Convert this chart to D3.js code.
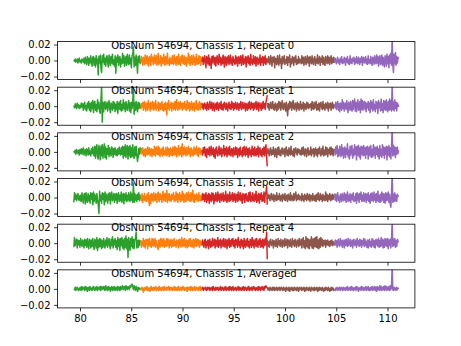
<!DOCTYPE html>
<html><head><meta charset="utf-8">
<script src="https://cdn.jsdelivr.net/npm/d3@7"></script>
<style>body{margin:0;background:#fff}svg{display:block}text{font-family:"DejaVu Sans",sans-serif;font-size:10px}</style>
</head><body><svg id="c" width="461" height="346"></svg>
<script>
// Segment time boundaries (x-axis units)
const segBounds = [79.4, 85.94, 91.9, 98.27, 104.83, 111.09];
const segColors = ["#2ca02c", "#ff7f0e", "#d62728", "#8c564b", "#9467bd"];
const xTicks = [80, 85, 90, 95, 100, 105, 110];
const yTicks = [20, 0, -20];            // in units of 0.001
const yTickLabels = ["0.02", "0.00", "\u22120.02"];
const titles = ["ObsNum 54694, Chassis 1, Repeat 0", "ObsNum 54694, Chassis 1, Repeat 1",
  "ObsNum 54694, Chassis 1, Repeat 2", "ObsNum 54694, Chassis 1, Repeat 3",
  "ObsNum 54694, Chassis 1, Repeat 4", "ObsNum 54694, Chassis 1, Averaged"];

// Series values, units of 0.001, one array per colored segment
const repeat0 = [
 [1,-1,2,-2,0,2,-3,1,3,-2,0,-3,2,1,-2,3,-4,4,-1,-5,5,2,-6,3,-3,6,-2,-7,4,5,-6,3,-8,6,-4,2,-18,5,-3,7,-9,-15,6,-2,8,-5,3,-7,4,6,-4,-8,7,2,-6,5,-3,8,-5,1,-7,6,-16,4,-2,7,-6,3,5,-8,2,-4,9,-3,6,-7,1,5,-6,8,-2,-5,7,-4,3,-9,6,8,17,-8,4,-6,7,-3,-16,5,-2,6,-4,2],
 [-3,5,-1,-6,4,2,-5,7,-2,-4,6,1,-7,3,5,-3,-6,8,-1,4,-5,2,7,-4,-2,6,-6,3,9,-5,1,-3,6,-7,4,2,-4,8,-2,-6,5,3,-5,9,-3,1,-6,4,-4,2,-4,6,-2,-5,7,-3,3,-6,5,1,-5,8,-4,2,-6,5,-1,7,-3,-4,6,-5,2,4,-7,3,-2,9,-4,5,-6,1,6,-3,-5,7,-2,4,-6,3,8,-5,2,-4,6,-3,5,-6,3,1],
 [-2,4,-5,1,6,-3,-9,5,2,-4,7,-6,3,-1,-10,5,-3,6,2,-5,4,-7,1,6,-3,-5,8,-2,4,-6,3,-4,7,-1,-8,5,2,-6,4,-3,6,-5,1,7,-4,3,-6,5,-2,1,-5,6,-3,4,-7,2,5,-4,-1,6,-6,3,7,-5,2,-3,5,-8,4,-2,6,-4,3,-6,8,-3,1,-5,6,-2,-4,5,-7,3,4,-5,2,-3,7,-6,3,-2,5,-6,4,-3,6,-5,2,1],
 [3,-3,5,-1,-5,6,2,-7,4,-2,5,-9,3,1,-5,6,-2,-6,7,-3,2,-10,5,-4,3,6,-5,1,-3,5,-6,4,-2,7,-8,2,-4,5,3,-6,4,-2,6,-5,1,-4,5,-3,2,-1,-4,6,-3,4,-6,2,5,-5,-2,6,-3,4,-7,5,1,-4,6,-2,-5,3,5,-6,2,-3,7,-4,-1,5,-6,3,-2,6,-5,4,-3,-6,5,2,-4,6,-3,4,-5,2,6,-4,3,-2,4,-3],
 [-2,3,-1,-4,2,4,-3,1,-5,3,-2,5,-4,1,-3,4,2,-6,3,-2,5,-4,1,-5,6,-3,2,-4,3,-1,4,-5,2,-3,5,-2,-4,4,1,-5,3,-2,5,-6,2,4,-3,-1,5,-4,2,-5,6,-3,1,-4,5,-2,-6,4,3,-5,6,-2,-4,7,-3,5,-7,2,6,-5,-3,7,-6,4,-2,-8,6,3,-7,8,-4,5,-9,7,-3,9,-6,30,-5,-15,8,-4,10,-6,5,-3,4,2]];
const repeat1 = [
 [1,-2,3,0,-3,4,-1,2,-3,1,-2,4,-1,3,-5,2,5,-4,1,-6,4,-2,6,-5,3,-7,5,-3,7,-8,4,6,-5,2,-7,8,-3,5,-6,-9,7,26,-20,5,-7,3,6,-4,-1,5,-6,2,7,-3,-8,4,1,-5,6,-3,5,-7,2,-4,6,-9,3,5,-4,7,-6,2,-5,8,-3,4,-7,6,-2,-5,3,7,-6,4,-8,5,-3,6,25,-10,4,-5,6,-2,-7,5,-3,4,-2,2],
 [-4,3,-1,5,-5,2,6,-3,-6,4,1,-5,7,-2,3,-6,5,-1,-4,6,2,-5,4,-3,7,-5,1,-2,5,-6,3,4,-4,-1,6,-5,2,-6,3,-4,5,-2,-11,4,-3,7,-5,1,-2,5,-6,3,4,-4,-1,6,-5,2,8,-3,-5,5,1,-4,6,-2,3,-5,4,-3,1,6,-4,2,-5,7,-3,-2,5,-6,3,-4,6,-1,-5,4,2,-6,5,-3,7,-4,2,-5,3,6,-4,-2,4,1],
 [-2,3,-4,1,4,-3,2,-5,5,-1,-4,3,6,-3,-2,5,-5,2,4,-6,1,3,-4,5,-2,-5,4,1,-3,6,-4,2,-5,3,5,-2,-4,4,-1,-6,3,5,-3,2,-4,6,-2,4,-5,3,-3,5,-1,-4,4,2,-5,3,-2,6,-4,1,5,-3,-2,4,-6,3,2,-5,4,-3,6,-1,-4,5,-2,3,-5,4,-3,2,6,-4,-1,5,-6,3,4,-2,-5,4,-3,6,-2,3,-4,5,9,14],
 [4,-2,3,-5,1,5,-3,-1,6,-4,2,-5,4,1,-6,3,-4,6,-2,5,-5,1,7,-3,-4,4,2,-6,5,-3,-12,3,-4,6,-2,5,-5,1,7,-3,-4,4,2,-6,5,-3,3,-5,1,6,-4,2,-3,5,-6,3,1,-4,5,-2,4,-3,2,-1,3,-5,6,-2,-4,5,-3,1,6,-5,2,-4,4,-6,3,5,-2,-4,6,-3,2,-5,4,1,-3,5,-6,3,-2,4,-5,2,5,-3,-1,3],
 [3,-2,5,-4,1,6,-5,3,-7,4,2,-5,8,-3,5,-6,2,4,-4,7,-2,-8,5,3,-5,6,-3,-6,7,-4,4,9,-6,5,-7,3,8,-5,-3,6,-8,9,-4,7,-5,2,6,-4,5,-7,3,-2,6,-5,4,-8,7,-3,5,-6,8,-4,2,-7,6,-3,5,-9,7,-2,4,-6,9,-5,3,-8,7,-4,6,-5,8,-3,-7,6,-5,9,-4,7,-6,30,-4,5,-6,8,-3,5,-6,4,2,-1]];
const repeat2 = [
 [1,-1,2,-3,3,0,-2,2,-4,3,-2,4,-3,2,5,-4,-1,3,-5,4,2,-4,5,-3,1,-5,4,-2,6,-3,-5,7,-8,4,9,-6,-9,8,3,-10,7,-5,9,-8,2,10,-7,6,-9,4,-3,8,-6,5,-2,-5,6,3,-7,4,-3,5,-4,2,-5,4,-3,6,-2,-4,5,-3,7,-8,6,-5,9,-7,4,8,-9,6,-5,8,-7,5,-6,9,-4,-8,6,-5,7,-4,-12,-6,4,-3,5,-1],
 [-3,4,-2,5,-5,1,3,-6,4,-2,-4,6,-3,2,5,-5,-1,4,-6,3,2,-4,7,-3,-5,6,1,-3,7,-4,5,-6,3,-2,4,-5,6,-3,1,-4,5,-2,-5,6,-3,4,-6,2,5,-4,3,-5,6,-2,-4,7,-3,5,-6,4,-2,8,-5,4,-3,6,-6,10,-4,5,-3,6,-1,-5,5,3,-4,7,-2,4,-6,3,5,-4,2,-5,6,-3,4,-2,7,-4,3,-6,5,-2,4,-3,2,1],
 [2,-4,5,-1,6,-5,3,-7,4,1,-3,6,-5,2,7,-4,-2,5,-6,3,-8,4,6,-3,-5,2,7,-4,1,5,-6,3,-2,8,-5,4,-3,6,-6,2,5,-4,7,-3,-5,4,3,-6,5,-2,-4,6,-3,5,-7,2,4,-5,6,-3,1,-6,5,-4,7,-2,-5,6,-3,4,-7,3,5,-4,2,-6,7,-3,4,-5,6,-2,-5,4,-3,7,-6,3,5,-4,2,-6,4,-3,6,-5,3,9,-6,-18],
 [-3,4,-1,-5,3,5,-4,2,-3,6,-2,-6,4,1,-7,5,-3,6,-4,2,-5,3,5,-3,-1,4,-6,3,6,-4,2,-5,5,-2,-4,7,-3,1,-5,4,-6,3,5,-2,-4,4,-1,3,-3,2,-4,5,-3,6,-2,-5,4,2,-6,3,5,-4,1,-3,6,-5,3,-2,4,-6,2,5,-4,3,-6,4,-2,6,-3,-5,4,-3,7,-5,2,-4,6,-3,5,-6,3,-2,5,-4,6,-3,4,-5,3,2],
 [4,-4,6,-2,8,-6,3,-5,7,1,-6,9,-4,5,-8,3,6,-7,4,-3,10,-6,2,-9,7,-4,5,8,-8,3,-5,9,-3,6,-10,7,-4,8,-6,5,-9,7,-3,6,-5,8,-4,5,-8,6,-3,7,-9,4,6,-5,8,-7,3,-6,9,-4,6,-8,5,-3,7,-6,4,-9,8,-5,3,-7,9,-4,6,-8,5,-3,7,-10,6,-4,8,-6,5,-9,7,30,-5,8,-4,6,-7,5,-3,6,-2,2]];
const repeat3 = [
 [-6,6,-2,4,-4,1,5,-3,2,-4,3,-5,6,-1,-7,4,5,-8,6,-3,-6,5,-4,3,-7,6,-2,5,-9,7,-5,4,1,-7,5,-3,-8,-20,8,-4,3,-7,6,-2,5,-9,7,-5,4,1,-7,5,-3,6,-8,3,7,-4,-2,5,-6,4,-3,5,-7,2,6,-5,3,-4,7,-6,2,5,-8,4,-3,6,-5,3,-4,6,-2,-5,7,-3,4,-6,18,-6,5,-3,3,-5,4,-2,6,-4,3,-2],
 [3,-4,5,-6,2,-3,5,-4,1,-5,4,-2,6,-5,-10,3,-7,5,-3,4,-5,6,-1,-4,5,2,-6,4,7,-3,-5,5,-2,3,-6,4,8,-4,-2,5,-5,3,9,-6,4,-3,5,-4,2,-5,4,-2,3,6,-5,2,-4,7,-3,5,-6,4,-2,6,-5,3,-4,8,-3,5,-6,2,4,-5,6,-3,-2,7,-4,3,-5,6,-4,2,9,-5,4,-6,3,-2,5,-4,3,-5,6,-3,2,-4,3,1],
 [-4,5,-2,4,-5,2,6,-6,3,-3,5,-7,4,1,-5,6,-3,5,-8,3,-4,6,-2,-5,7,-3,4,-6,2,5,-4,-1,6,-5,3,-3,8,-4,-6,4,2,-5,7,-4,3,-2,6,-5,4,-3,5,-6,2,4,-5,7,-3,-2,6,-4,3,-7,5,-2,4,-6,3,5,-4,2,-5,6,-3,7,-5,2,-4,6,-2,-5,4,-3,8,-6,3,-4,5,-7,4,-2,6,-5,3,-4,7,-6,5,6,14,-9],
 [-3,4,-1,3,-4,2,5,-3,-2,4,-5,3,1,-4,6,-3,2,-2,5,-4,-1,3,-5,4,2,-3,5,-4,1,3,-5,4,-2,-3,6,-4,3,-1,-4,5,-3,2,7,-4,3,-2,4,-3,2,1,-4,5,-3,2,-5,4,-2,3,-4,5,-1,-3,4,-5,3,2,-4,5,-3,2,-4,3,-5,4,-2,6,-3,-4,5,-2,3,-5,4,-3,2,-4,7,-3,4,-5,3,-2,5,-4,3,-3,4,-2,3,1],
 [5,-3,4,-5,2,6,-4,1,-6,4,3,-5,5,-2,-4,6,-3,4,-6,2,7,-5,3,-4,5,-6,2,4,-3,6,-5,1,-4,5,-7,6,-3,4,-6,5,-2,7,-5,3,-4,6,-5,2,5,-6,4,-3,6,-5,3,-7,5,-4,6,-2,-5,7,-3,4,-6,5,-4,8,-5,3,-6,4,-5,7,-3,5,-6,4,-7,6,-4,5,-3,7,-6,4,-8,-12,5,30,-6,4,-5,6,-4,3,-5,4,2,1]];
const repeat4 = [
 [-5,7,-3,2,5,-6,4,-2,3,-5,6,-1,-4,4,2,-6,5,-3,4,-5,6,-2,-7,5,3,-6,4,-4,6,-3,-8,5,2,-6,7,-9,4,-5,6,-4,5,-7,3,-5,6,-2,-6,4,-3,7,-5,2,6,-4,-7,5,-3,8,-6,4,-2,6,-5,3,-8,7,-4,5,-9,6,-3,7,-6,4,-8,6,-5,9,-7,5,-18,7,-3,-9,6,-4,8,-6,5,-7,4,6,14,-6,3,-5,4,-3,3,1],
 [4,-5,2,-3,6,-4,3,-6,5,-1,4,-7,5,-3,6,-4,2,-5,6,-3,5,-4,1,6,-5,3,-2,-4,-8,4,2,-5,6,-3,5,-4,1,6,-5,3,-2,-4,6,-3,5,2,-6,4,-3,5,-5,1,4,-4,6,-3,2,-5,4,-2,3,-6,5,-3,4,-5,7,-2,-4,5,-3,6,-5,2,4,-6,3,-4,5,-2,6,-4,3,-5,2,5,-6,4,-3,6,-4,2,5,-3,4,-5,3,-2,2,1],
 [-3,4,-1,-5,3,5,-6,2,-3,4,-7,3,5,-5,2,-4,6,-3,-2,5,-6,4,1,-4,7,-5,3,-3,5,-6,2,4,-4,6,-3,-5,5,2,-7,4,-3,6,-5,3,-4,5,-2,6,-4,3,-6,5,-2,4,-5,7,-3,2,-6,4,5,-4,3,-7,6,-2,-5,4,-3,6,-4,2,-6,5,3,-5,7,-3,4,-6,2,5,-4,6,-3,-5,4,-2,6,-5,3,-4,5,-6,4,-3,6,-2,14,-20],
 [4,-4,2,-5,3,5,-3,-1,4,-6,3,2,-4,5,-3,-5,6,-2,3,-4,5,-1,-5,4,3,-4,6,-3,-2,5,-6,4,2,-4,5,-3,-5,6,-2,3,-4,5,-1,-5,4,3,-4,6,-3,-2,5,-6,4,7,-5,3,-7,8,-4,6,-6,5,-7,4,-3,8,-6,5,-7,6,-4,7,-5,8,-6,4,-7,6,-5,7,-3,5,-4,3,-2,4,-5,3,-2,4,-3,2,-4,3,-2,4,-3,2,-2,1],
 [-3,4,-2,3,-5,2,5,-3,-4,6,-2,3,-5,4,1,-6,4,-3,5,-2,-4,6,-3,2,5,-4,-2,4,-6,3,5,-3,-1,4,-5,6,-2,3,-4,5,-3,4,-5,3,-2,6,-4,5,-3,2,-5,4,-6,3,5,-4,2,-5,6,-3,4,-5,3,-6,5,-2,4,-4,6,-5,3,-4,7,-3,5,-6,4,-5,6,-3,5,-4,6,-7,4,-3,5,-6,4,28,-4,5,-3,6,-5,3,-4,5,2,1]];
const averaged = [
 [0,-1,2,-2,1,2,-1,-2,1,-1,2,-2,3,-1,1,2,-2,3,-1,2,-3,1,2,-2,3,-1,1,-2,2,3,-1,-2,2,-1,3,-2,1,2,-1,3,-2,3,1,-1,3,2,-2,4,-1,2,-2,3,-1,2,-3,1,3,-2,2,-1,3,-2,1,2,-2,3,-1,2,-2,3,-1,2,4,-1,2,3,-2,4,1,-1,3,2,-1,4,2,5,6,3,-1,4,2,-2,3,1,-3,2,-1,1,0,-1],
 [-2,1,2,-1,-4,1,-2,2,0,-1,3,-2,1,-1,-3,2,-2,3,-1,1,-2,2,-1,1,3,-2,1,-1,2,-2,3,-1,1,-2,2,-1,2,-2,3,-1,1,-2,2,-1,1,3,-2,2,-1,1,2,-2,1,-1,3,-2,2,-1,-2,2,-1,3,-2,1,-1,2,-2,1,3,-1,2,-2,1,-1,2,-3,2,1,-1,2,-2,3,-1,2,-2,1,-1,3,-2,1,2,-1,1,-2,2,-1,3,-2,1,2],
 [-1,2,-2,1,0,2,-1,-2,2,-1,1,2,-2,1,-1,2,-2,3,-1,1,-2,2,-1,1,2,-2,1,-1,3,-2,1,2,-1,-2,2,-1,3,-2,1,-1,2,-2,3,-1,2,-2,1,3,-2,1,-1,2,-2,1,-1,3,-2,2,-1,1,-2,2,-1,3,-2,1,2,-1,-2,2,-1,3,-2,1,-1,2,-2,1,3,-1,2,-2,1,-1,2,-2,3,-1,2,-2,1,3,-1,2,-2,3,1,4,2,1],
 [2,-1,1,-2,2,-1,1,-2,2,-1,2,-2,1,-1,2,-2,1,-1,2,-2,1,2,-1,-2,2,-1,1,-3,2,-1,1,-2,2,-3,1,-1,2,-2,1,-2,2,-1,1,-2,2,-1,-3,2,-1,0,2,-2,1,-1,2,-3,1,-2,2,-1,1,-2,2,-1,-3,2,-1,1,-2,2,-2,1,-1,2,-3,1,-2,2,-1,1,-2,2,-1,-3,1,-2,2,-1,1,-2,2,-1,-3,1,-2,2,-1,1,-2,0],
 [0,-2,1,-1,2,-2,1,-1,2,-2,1,2,-1,-2,2,-1,1,-2,2,-1,3,-2,1,-1,2,-2,3,-1,2,-2,1,-1,2,-2,3,-1,2,-3,1,-1,2,-2,3,-1,2,-2,1,-1,3,-2,2,-1,3,-2,1,-2,2,-1,3,-2,2,-1,3,-2,2,-3,3,-1,2,-2,4,-1,3,-2,2,-1,3,-2,4,-1,3,-2,2,-1,3,-2,4,-1,2,30,-1,-2,2,-1,1,-2,2,-1,1,0]];
const panels = [repeat0, repeat1, repeat2, repeat3, repeat4, averaged];

const svg = d3.select("#c");
const L = 57.6, R = 414.9, T = 41.5, B = 307.9;
const n = panels.length;
const h = (B - T) / (n + (n - 1) * 0.2), gap = h * 0.2;
const x = d3.scaleLinear().domain([77.815, 112.675]).range([L, R]);

panels.forEach((segs, i) => {
  const top = T + i * (h + gap), bot = top + h;
  const y = d3.scaleLinear().domain([-23.8, 23.8]).range([bot, top]);
  const g = svg.append("g");
  const cid = "clip" + i;
  svg.append("clipPath").attr("id", cid).append("rect")
    .attr("x", L).attr("y", top).attr("width", R - L).attr("height", h);
  const lg = g.append("g").attr("clip-path", `url(#${cid})`);
  segs.forEach((vals, s) => {
    const xs = d3.scaleLinear().domain([0, vals.length - 1]).range([segBounds[s], segBounds[s + 1]]);
    const line = d3.line().x((d, k) => x(xs(k))).y(d => y(d));
    lg.append("path").attr("d", line(vals)).attr("fill", "none")
      .attr("stroke", segColors[s]).attr("stroke-width", 1.5)
      .attr("stroke-linejoin", "round").attr("stroke-linecap", "butt");
  });
  const xa = d3.axisBottom(x).tickValues(xTicks).tickSize(3.5).tickPadding(3.5)
    .tickFormat(i === n - 1 ? d3.format("d") : () => "");
  const gx = g.append("g").attr("transform", `translate(0,${bot})`).call(xa);
  const ya = d3.axisLeft(y).tickValues(yTicks).tickSize(3.5).tickPadding(3.5)
    .tickFormat((d, k) => yTickLabels[k]);
  const gy = g.append("g").attr("transform", `translate(${L},0)`).call(ya);
  [gx, gy].forEach(a => {
    a.select(".domain").remove();
    a.selectAll("line").attr("stroke", "#000").attr("stroke-width", 0.8);
    a.selectAll("text").attr("fill", "#000").style("font-family", "DejaVu Sans").style("font-size", "10px");
  });
  g.append("rect").attr("x", L).attr("y", top).attr("width", R - L).attr("height", h)
    .attr("fill", "none").attr("stroke", "#000").attr("stroke-width", 0.8);
  g.append("text").attr("x", L + 0.15 * (R - L)).attr("y", top + 7).text(titles[i]);
});
</script></body></html>
